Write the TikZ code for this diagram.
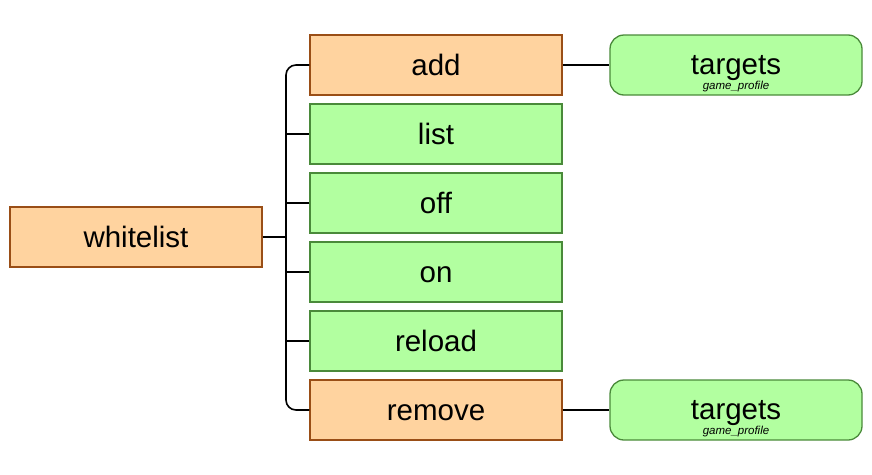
\documentclass[tikz,border=0pt]{standalone}
\usepackage{fontspec}
\setmainfont{Liberation Sans}
\definecolor{ofill}{HTML}{FFD39F}
\definecolor{oline}{HTML}{9A4E16}
\definecolor{gfill}{HTML}{B2FFA0}
\definecolor{gline}{HTML}{4A8A3A}
\begin{document}
\begin{tikzpicture}[x=1pt,y=-1pt,
  base/.style={line width=1.3pt,minimum width=252pt,minimum height=60pt,inner sep=0pt,text height=20pt,text depth=0pt,font=\fontsize{29.5}{34}\selectfont},
  obox/.style={base,draw=oline,fill=ofill},
  gbox/.style={base,draw=gline,fill=gfill},
  tbox/.style={gbox,rounded corners=14pt},
  conn/.style={draw=black,line width=1.6pt}]
\useasboundingbox (0,0) rectangle (872,474);
\node[obox] (wl) at (136,237) {whitelist};
\node[obox] (add) at (436,65) {add};
\node[gbox] (list) at (436,134) {list};
\node[gbox] (off) at (436,203) {off};
\node[gbox] (on) at (436,272) {on};
\node[gbox] (reload) at (436,341) {reload};
\node[obox] (remove) at (436,410) {remove};
\node[tbox] (t1) at (736,65) {};
\node[tbox] (t2) at (736,410) {};
\foreach \t in {t1,t2}{
  \node[inner sep=0pt,anchor=base] (\t l) at ([yshift=-9pt]\t.center) {\fontsize{29.5}{34}\selectfont targets};
  \node[inner sep=0pt,anchor=base] (\t s) at ([yshift=-24pt]\t.center) {\fontsize{11.5}{13}\selectfont\itshape game\_profile};
}
\coordinate (bus) at (286,237);
\draw[conn] (wl.east) -- (bus);
\draw[conn,rounded corners=10pt] (add.west) -| (bus |- wl.east) |- (remove.west);
\foreach \n in {list,off,on,reload}{
  \draw[conn] (\n.west) -- (bus |- \n.west);
}
\draw[conn] (add.east) -- (t1.west);
\draw[conn] (remove.east) -- (t2.west);
\end{tikzpicture}
\end{document}
